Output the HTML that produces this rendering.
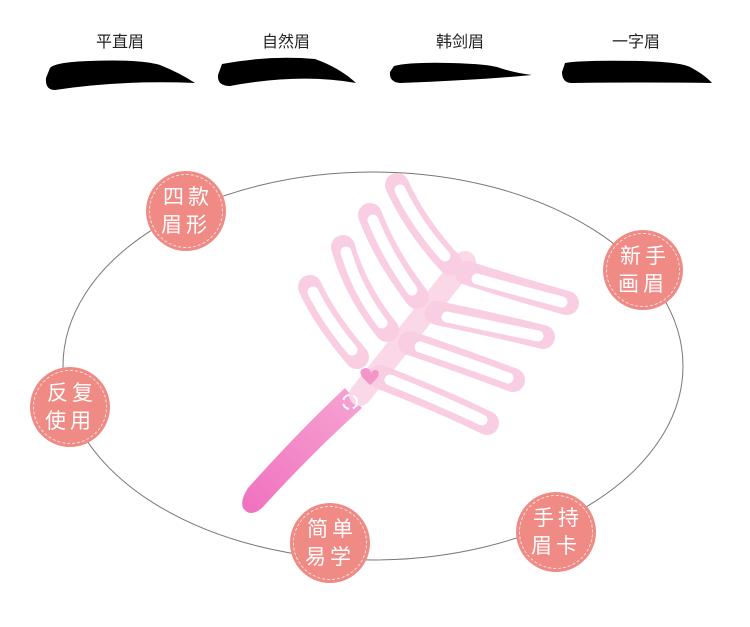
<!DOCTYPE html>
<html><head><meta charset="utf-8"><style>
body{margin:0;width:750px;height:627px;background:#fff;overflow:hidden;font-family:"Liberation Sans","Noto Sans CJK SC",sans-serif;}
.t{position:absolute;top:28px;font-size:16px;color:#222;width:100px;text-align:center}
.c{position:absolute;width:80px;height:80px;border-radius:50%;background:#ef8a85;}
.c::after{content:"";position:absolute;left:3px;top:3px;right:3px;bottom:3px;border:1px dashed #fde4e2;border-radius:50%}
.c span{position:absolute;left:0;top:13px;width:80px;text-align:center;color:#fff;font-size:21px;line-height:28px;letter-spacing:4px;text-indent:4px}
</style></head><body>
<div class="t" style="left:70px">平直眉</div>
<div class="t" style="left:236px">自然眉</div>
<div class="t" style="left:410px">韩剑眉</div>
<div class="t" style="left:586px">一字眉</div>
<svg width="750" height="627" style="position:absolute;left:0;top:0">
<path d="M50 68 Q55 62 90 61 Q140 59 160 65 Q180 73 195 83 Q120 80 55 90 Q45 90 46 78Z" fill="#000"/>
<path d="M222 64 Q270 55 315 59 Q340 68 356 83 Q300 73 230 86 Q217 86 218 75Z" fill="#000"/>
<path d="M394 66 Q410 62 450 63 Q490 64 500 68 Q515 73 532 75 Q480 80 400 83 Q389 82 390 72Z" fill="#000"/>
<path d="M565 63 Q580 60 640 61 Q680 62 690 67 Q705 75 712 83 Q650 82 572 83 Q562 83 562 72Z" fill="#000"/>
<ellipse cx="373" cy="366" rx="310" ry="194" fill="none" stroke="#777" stroke-width="1"/>
<defs><linearGradient id="h" x1="0" y1="1" x2="1" y2="0"><stop offset="0" stop-color="#f070bf"/><stop offset="1" stop-color="#f7a5d3"/></linearGradient></defs>
<path d="M345 388 L362 408 Q310 455 262 508 Q250 518 243 508 Q240 500 248 488 Q300 430 345 388Z" fill="url(#h)"/>
<g fill="none" stroke-linecap="round">
<path d="M360 395 L465 262" stroke="#fbd8e8" stroke-width="22"/>
<g stroke="#f9cde2" stroke-width="24">
<path d="M357 357 Q325 320 310 287"/><path d="M387 330 Q355 290 343 247"/>
<path d="M417 297 Q385 255 370 215"/><path d="M450 263 Q415 225 397 185"/>
<path d="M380 377 Q440 400 487 423"/><path d="M410 343 Q465 362 513 380"/>
<path d="M437 313 Q495 325 543 337"/><path d="M467 273 Q520 290 567 303"/>
</g>
<g stroke="#fff" stroke-width="11">
<path d="M352 350 Q327 320 313 292"/><path d="M382 323 Q357 290 346 252"/>
<path d="M412 290 Q387 255 373 220"/><path d="M445 256 Q417 225 400 190"/>
<path d="M390 380 Q440 400 482 420"/><path d="M420 347 Q465 362 508 378"/>
<path d="M447 317 Q495 327 538 336"/><path d="M477 279 Q520 291 562 302"/>
</g>
</g>
<path d="M363 378 q-6 -8 2 -10 q6 0 6 6 q2 -6 7 -3 q3 5 -8 14z" fill="#f594c6"/>
<circle cx="350" cy="402" r="7" fill="none" stroke="#fff" stroke-width="2" stroke-dasharray="8 4"/>
</svg>
<div class="c" style="left:146px;top:171px"><span>四款<br>眉形</span></div>
<div class="c" style="left:603px;top:230px"><span>新手<br>画眉</span></div>
<div class="c" style="left:30px;top:367px"><span>反复<br>使用</span></div>
<div class="c" style="left:290px;top:503px"><span>简单<br>易学</span></div>
<div class="c" style="left:516px;top:492px"><span>手持<br>眉卡</span></div>
</body></html>
